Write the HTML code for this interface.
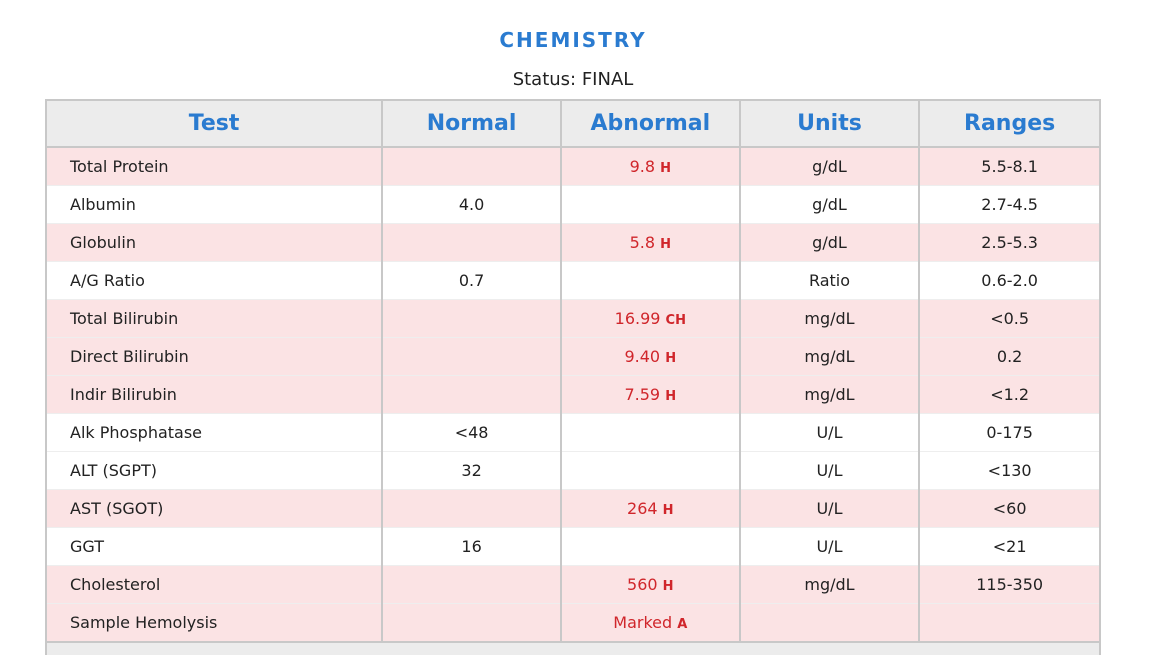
<!DOCTYPE html>
<html><head><style>
body{margin:0;background:#fff;font-family:"DejaVu Sans","Liberation Sans",sans-serif;width:1156px;height:653px;overflow:hidden;position:relative}
.t{position:absolute;left:0;width:1146px;text-align:center;top:28px;font-size:20px;font-weight:bold;color:#2a7bd0;letter-spacing:2px}
.s{position:absolute;left:0;width:1146px;text-align:center;top:69px;font-size:18px;color:#222}
table{position:absolute;left:45px;top:99px;border-collapse:collapse;width:1056px;border:2px solid #c8c8c8;border-bottom:none}
td,th{height:37px;padding:0;font-size:16px;color:#222;text-align:center;border-left:2px solid #c8c8c8;border-top:1px solid #eee}
th{height:45px;background:#ececec;color:#2a7bd0;font-size:22px;font-weight:bold;border-bottom:2px solid #c8c8c8}
td:first-child{text-align:left;padding-left:23px}
tr.p td{background:#fbe3e4}
.r{color:#d0262b}.r b{font-size:13px}
.f{position:absolute;left:45px;top:641px;width:1056px;height:14px;background:#ececec;border:2px solid #c8c8c8;border-bottom:none;box-sizing:border-box}
</style></head><body>
<div class="t">CHEMISTRY</div>
<div class="s">Status: FINAL</div>
<table>
<colgroup><col style="width:337px"><col style="width:179px"><col style="width:179px"><col style="width:180px"><col style="width:181px"></colgroup>
<tr><th>Test</th><th>Normal</th><th>Abnormal</th><th>Units</th><th>Ranges</th></tr>
<tr class="p"><td>Total Protein</td><td></td><td class="r">9.8 <b>H</b></td><td>g/dL</td><td>5.5-8.1</td></tr>
<tr><td>Albumin</td><td>4.0</td><td></td><td>g/dL</td><td>2.7-4.5</td></tr>
<tr class="p"><td>Globulin</td><td></td><td class="r">5.8 <b>H</b></td><td>g/dL</td><td>2.5-5.3</td></tr>
<tr><td>A/G Ratio</td><td>0.7</td><td></td><td>Ratio</td><td>0.6-2.0</td></tr>
<tr class="p"><td>Total Bilirubin</td><td></td><td class="r">16.99 <b>CH</b></td><td>mg/dL</td><td>&lt;0.5</td></tr>
<tr class="p"><td>Direct Bilirubin</td><td></td><td class="r">9.40 <b>H</b></td><td>mg/dL</td><td>0.2</td></tr>
<tr class="p"><td>Indir Bilirubin</td><td></td><td class="r">7.59 <b>H</b></td><td>mg/dL</td><td>&lt;1.2</td></tr>
<tr><td>Alk Phosphatase</td><td>&lt;48</td><td></td><td>U/L</td><td>0-175</td></tr>
<tr><td>ALT (SGPT)</td><td>32</td><td></td><td>U/L</td><td>&lt;130</td></tr>
<tr class="p"><td>AST (SGOT)</td><td></td><td class="r">264 <b>H</b></td><td>U/L</td><td>&lt;60</td></tr>
<tr><td>GGT</td><td>16</td><td></td><td>U/L</td><td>&lt;21</td></tr>
<tr class="p"><td>Cholesterol</td><td></td><td class="r">560 <b>H</b></td><td>mg/dL</td><td>115-350</td></tr>
<tr class="p"><td>Sample Hemolysis</td><td></td><td class="r">Marked <b>A</b></td><td></td><td></td></tr>
</table>
<div class="f"></div>
</body></html>
